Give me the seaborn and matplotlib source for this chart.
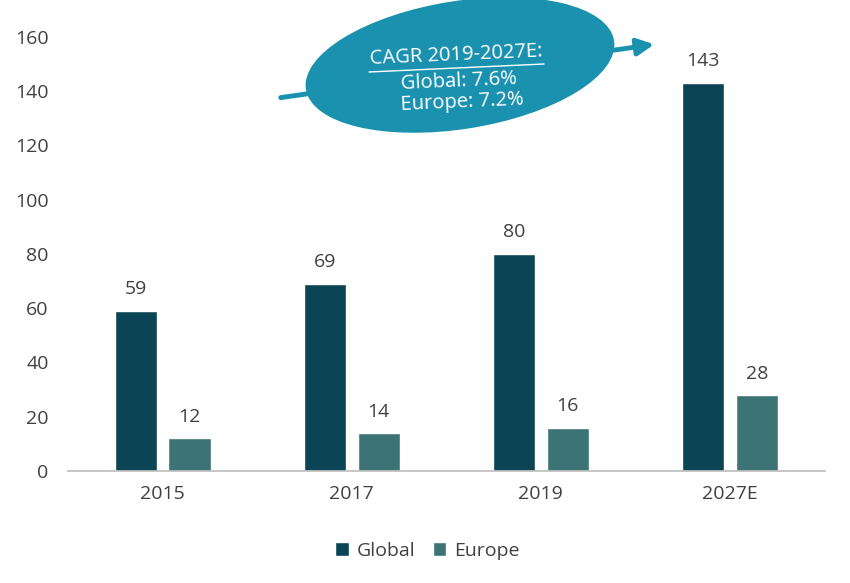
import pandas as pd
import matplotlib.pyplot as plt
import seaborn as sns
from matplotlib.patches import Ellipse, FancyArrowPatch
from matplotlib.transforms import IdentityTransform

years = ["2015", "2017", "2019", "2027E"]
global_vals = [59, 69, 80, 143]
europe_vals = [12, 14, 16, 28]
series = ["Global", "Europe"]
colors = ["#0B4555", "#3C7475"]
cagr_lines = ["CAGR 2019-2027E:", "Global: 7.6%", "Europe: 7.2%"]

df = pd.DataFrame({
    "Year": years * 2,
    "Value": global_vals + europe_vals,
    "Series": [series[0]] * len(years) + [series[1]] * len(years),
})

sns.set_theme(style="white")
plt.rcParams["font.family"] = ["Open Sans", "DejaVu Sans"]
text_color = "#404040"

fig = plt.figure(figsize=(8.5, 5.83), dpi=100)
ax = fig.add_axes([0.08, 0.192, 0.89, 0.745])

sns.barplot(data=df, x="Year", y="Value", hue="Series", palette=colors,
            width=0.57, gap=0.22, ax=ax, saturation=1)

for c in ax.containers:
    ax.bar_label(c, padding=9, fontsize=14, color=text_color)

ax.set_ylim(0, 160)
ax.set_xlim(-0.5, 3.5)
ax.set_yticks(range(0, 161, 20))
ax.set_xlabel("")
ax.set_ylabel("")
ax.tick_params(axis="both", labelsize=14, labelcolor=text_color, length=0)
ax.tick_params(axis="x", pad=10)
ax.tick_params(axis="y", pad=14)
for s in ["top", "right", "left"]:
    ax.spines[s].set_visible(False)
ax.spines["bottom"].set_color("#bfbfbf")

handles, labels = ax.get_legend_handles_labels()
fig.legend(handles, labels, loc="upper center", bbox_to_anchor=(0.503, 0.101),
           ncol=2, frameon=False, fontsize=14, handlelength=0.7, handleheight=0.7,
           handletextpad=0.4, columnspacing=0.9, labelcolor=text_color)
ax.get_legend().remove()

# CAGR callout (pixel coordinates, y measured from bottom)
H = 583
ident = IdentityTransform()
arrow = FancyArrowPatch((278, H - 98), (657, H - 44), transform=ident,
                        arrowstyle="-|>,head_length=10,head_width=5",
                        color="#1A91AF", lw=3.5, mutation_scale=1, zorder=5)
fig.patches.append(arrow)
ell = Ellipse((460, H - 65), 312, 128, angle=9, transform=ident,
              facecolor="#1A91AF", edgecolor="none", zorder=6)
fig.patches.append(ell)

positions = [(456, 55), (459, 81), (462, 102)]
for txt, (px, py) in zip(cagr_lines, positions):
    fig.text(px / 850, 1 - py / H, txt, ha="center", va="center",
             fontsize=14.5, color="white", rotation=2.5, zorder=7)
fig.lines.append(plt.Line2D([369, 544], [H - 72, H - 64], transform=ident,
                            color="white", lw=1, zorder=7))

fig.savefig("out.png", dpi=100)
